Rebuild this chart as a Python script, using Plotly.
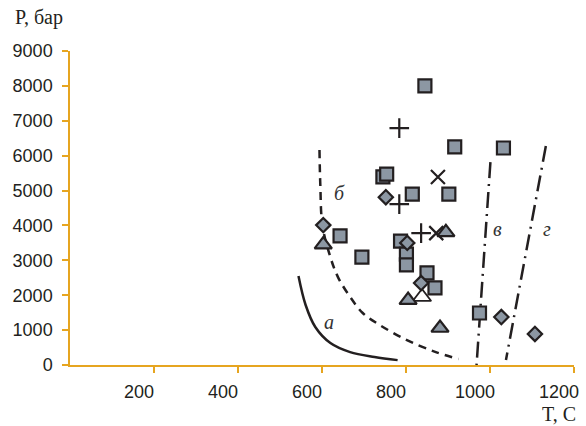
import plotly.graph_objects as go

# --- data: temperature (°C) and pressure (bar) ---
sq_t = [845, 916, 1032, 745, 754, 815, 902, 643, 695, 787, 801, 801, 850, 869, 975]
sq_p = [8000, 6250, 6220, 5390, 5470, 4900, 4900, 3700, 3090, 3550, 3180, 2870, 2640, 2210, 1490]

dia_t = [603, 752, 803, 836, 1027, 1107]
dia_p = [4010, 4810, 3500, 2350, 1375, 890]

tri_t = [603, 895, 805, 881]
tri_p = [3450, 3800, 1860, 1060]

open_tri_t = [838]
open_tri_p = [1950]

plus_t = [784, 784, 836]
plus_p = [6790, 4610, 3780]

x_t = [876, 872]
x_p = [5390, 3780]

# curves
a_t = [544, 561, 584, 620, 667, 725, 780]
a_p = [2550, 1720, 1090, 630, 370, 230, 140]

b_t = [594, 596, 601, 620, 638, 667, 697, 737, 801, 871, 925]
b_p = [6160, 5160, 4010, 3090, 2520, 1950, 1490, 1150, 720, 370, 170]

v_t = [1001, 968]
v_p = [5816, 0]

g_t = [1133, 1038]
g_p = [6275, 143]

curve_labels = ["а", "б", "в", "г"]
label_t = [617, 641, 1019, 1135]
label_p = [1232, 4928, 3896, 3896]

x_ticks = [200, 400, 600, 800, 1000, 1200]
y_ticks = [0, 1000, 2000, 3000, 4000, 5000, 6000, 7000, 8000, 9000]

INK = "#231F20"
FILL = "#8C97A3"
AXIS = "#E6A520"

fig = go.Figure()

# boundary curves
fig.add_trace(go.Scatter(x=a_t, y=a_p, mode="lines",
                         line=dict(color=INK, width=2.5, shape="spline")))
fig.add_trace(go.Scatter(x=b_t, y=b_p, mode="lines",
                         line=dict(color=INK, width=2.5, shape="spline", dash="8px,6px")))
fig.add_trace(go.Scatter(x=v_t, y=v_p, mode="lines",
                         line=dict(color=INK, width=2.5, dash="16px,6px,2px,6px")))
fig.add_trace(go.Scatter(x=g_t, y=g_p, mode="lines",
                         line=dict(color=INK, width=2.5, dash="16px,6px,2px,6px")))

# point sets
fig.add_trace(go.Scatter(x=x_t, y=x_p, mode="markers",
                         marker=dict(symbol="x-thin", size=14,
                                     line=dict(color=INK, width=2.2))))
fig.add_trace(go.Scatter(x=open_tri_t, y=open_tri_p, mode="markers",
                         marker=dict(symbol="triangle-up", size=16, color="white",
                                     line=dict(color=INK, width=1.8))))
fig.add_trace(go.Scatter(x=sq_t, y=sq_p, mode="markers",
                         marker=dict(symbol="square", size=13, color=FILL,
                                     line=dict(color=INK, width=2.2))))
fig.add_trace(go.Scatter(x=tri_t, y=tri_p, mode="markers",
                         marker=dict(symbol="triangle-up", size=15, color=FILL,
                                     line=dict(color=INK, width=2.2))))
fig.add_trace(go.Scatter(x=dia_t, y=dia_p, mode="markers",
                         marker=dict(symbol="diamond", size=11, color=FILL,
                                     line=dict(color=INK, width=2.2))))
fig.add_trace(go.Scatter(x=plus_t, y=plus_p, mode="markers",
                         marker=dict(symbol="cross-thin", size=14,
                                     line=dict(color=INK, width=2.2))))

annotations = []
for txt, t, p in zip(curve_labels, label_t, label_p):
    annotations.append(dict(x=t, y=p, xref="x", yref="y", text="<i>" + txt + "</i>",
                            showarrow=False,
                            font=dict(family="Liberation Serif", size=20, color="#333333")))

# axis titles, placed in pixel terms
L, R, T, B = 70, 7, 51, 61
W, H = 586, 426
pw, ph = W - L - R, H - T - B
annotations.append(dict(x=(12 - L) / pw, y=1 - (18 - T) / ph, xref="paper", yref="paper",
                        text="P, бар", showarrow=False, xanchor="left", yanchor="middle",
                        font=dict(family="Liberation Serif", size=20, color=INK)))
annotations.append(dict(x=(583 - L) / pw, y=1 - (414 - T) / ph, xref="paper", yref="paper",
                        text="T, C", showarrow=False, xanchor="right", yanchor="middle",
                        font=dict(family="Liberation Serif", size=20, color=INK)))

fig.update_layout(
    width=W, height=H,
    margin=dict(l=L, r=R, t=T, b=B),
    paper_bgcolor="white", plot_bgcolor="white",
    showlegend=False,
    annotations=annotations,
    xaxis=dict(range=[0, 1200], tickvals=x_ticks, ticktext=[str(v) for v in x_ticks],
               showgrid=False, zeroline=False,
               showline=True, linecolor=AXIS, linewidth=1.5,
               ticks="outside", ticklen=6, tickwidth=2, tickcolor=AXIS,
               ticklabelshift=-15, ticklabelstandoff=4,
               tickfont=dict(family="Liberation Sans", size=18, color=INK)),
    yaxis=dict(range=[0, 9000], tickvals=y_ticks, ticktext=[str(v) for v in y_ticks],
               showgrid=False, zeroline=False,
               showline=True, linecolor=AXIS, linewidth=1.5,
               ticks="outside", ticklen=6, tickwidth=2, tickcolor=AXIS,
               ticklabelstandoff=6,
               tickfont=dict(family="Liberation Sans", size=18, color=INK)),
)
fig.update_traces(cliponaxis=False)

fig.write_html("out.html")
